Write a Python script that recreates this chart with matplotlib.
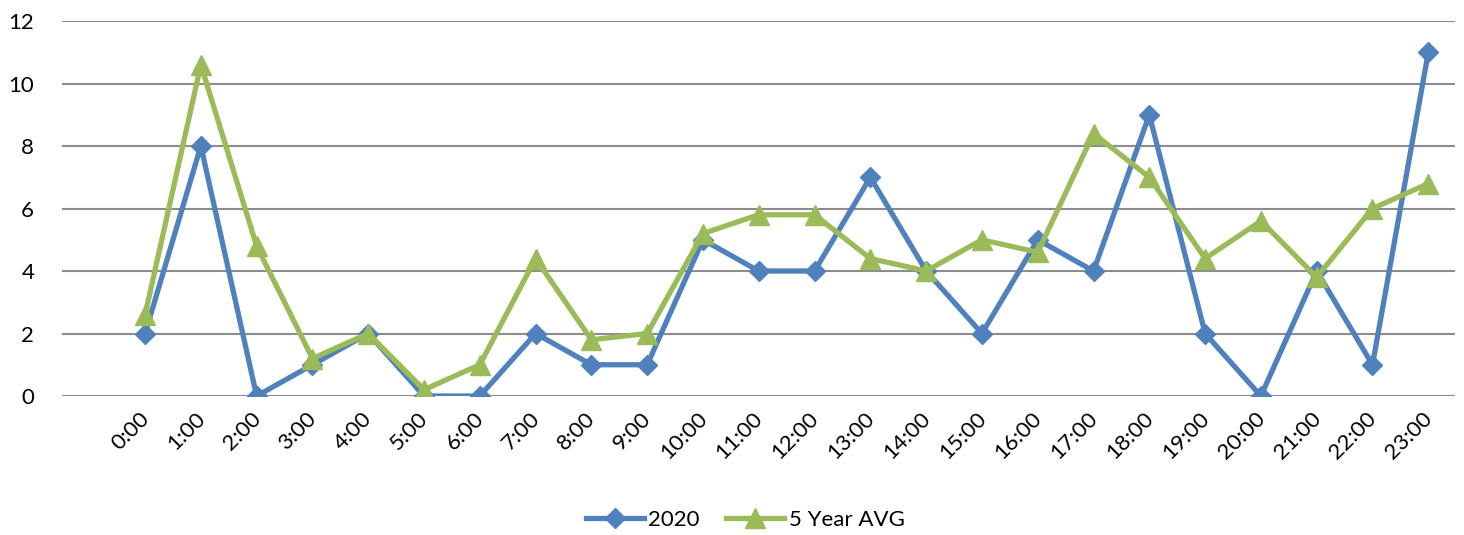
import matplotlib.pyplot as plt
import matplotlib.transforms as mtransforms

# ---- data ----
hours = [f"{h}:00" for h in range(24)]
y2020 = [2, 8, 0, 1, 2, 0, 0, 2, 1, 1, 5, 4, 4, 7, 4, 2, 5, 4, 9, 2, 0, 4, 1, 11]
avg5 = [2.6, 10.6, 4.8, 1.2, 2.0, 0.2, 1.0, 4.4, 1.8, 2.0, 5.2, 5.8,
        5.8, 4.4, 4.0, 5.0, 4.6, 8.4, 7.0, 4.4, 5.6, 3.8, 6.0, 6.8]

BLUE = "#4F81BD"
GREEN = "#9BBB59"
GRID = "#8C8C8C"

plt.rcParams['font.family'] = ['Lato', 'DejaVu Sans']

fig = plt.figure(figsize=(14.64, 5.35), dpi=100)
ax = fig.add_axes([0.0423, 0.2598, 0.9516, 0.7009])

x = list(range(len(hours)))
ax.plot(x, y2020, color=BLUE, lw=3.8, marker="D", ms=10, mfc=BLUE, mec=BLUE,
        label="2020", zorder=3)
ax.plot(x, avg5, color=GREEN, lw=3.8, marker="^", ms=14, mfc=GREEN, mec=GREEN,
        label="5 Year AVG", zorder=4)

ax.set_ylim(0, 12)
ax.set_xlim(-1.49, 23.48)
ax.set_yticks(range(0, 13, 2))
ax.set_xticks(x)
ax.set_xticklabels(hours, rotation=45, ha="right", va="top")
ax.tick_params(axis="both", length=0, labelsize=16)
ax.tick_params(axis="y", pad=20)
ax.tick_params(axis="x", pad=9)

# nudge rotated labels a little to the right, as in the original
shift = mtransforms.ScaledTranslation(8 / 100, 0, fig.dpi_scale_trans)
for lab in ax.get_xticklabels():
    lab.set_transform(lab.get_transform() + shift)

ax.yaxis.grid(True, color=GRID, lw=1.5)
ax.set_axisbelow(True)
for s in ax.spines.values():
    s.set_visible(False)

fig.legend(*ax.get_legend_handles_labels(), loc="center",
           bbox_to_anchor=(0.509, 1 - 520 / 535), ncol=2, frameon=False,
           fontsize=16, handlelength=2.6, columnspacing=1.2, handletextpad=0.2)

fig.savefig("out.png", dpi=100)
